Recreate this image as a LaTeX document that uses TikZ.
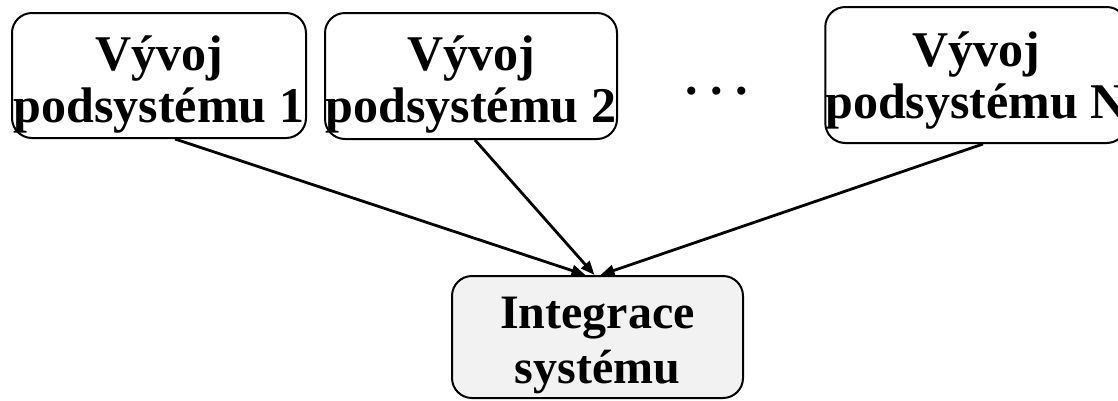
\documentclass[tikz,border=0pt]{standalone}
\usepackage{fontspec}
\setmainfont{Liberation Serif}
\usetikzlibrary{arrows.meta,calc}
\begin{document}
\begin{tikzpicture}[x=1pt,y=-1pt,
  phase/.style={draw=black, line width=2pt, rounded corners=20pt,
    inner sep=0pt, align=center, text height=100pt,
    font=\fontsize{50}{52}\selectfont\bfseries},
  flow/.style={line width=2.8pt, -{Triangle[length=14pt,width=11pt]}}]
  \useasboundingbox (0,0) rectangle (1118,400);

  % development of the individual subsystems
  \node[phase, minimum width=294pt, minimum height=125pt, text depth=7pt]
    (b1) at (159,75.5) {Vývoj\\podsystému 1};
  \node[phase, minimum width=292pt, minimum height=126pt, text depth=8pt]
    (b2) at (471,76) {Vývoj\\podsystému 2};
  \node[phase, minimum width=300pt, minimum height=136pt, text depth=14pt]
    (bN) at (976,75) {Vývoj\\podsystému N};
  \node[anchor=base, inner sep=0pt, font=\fontsize{50}{52}\selectfont\bfseries]
    (dots) at (717,94) {.\ .\ .};

  % system integration
  \node[phase, fill={rgb,255:red,242;green,242;blue,242},
    font=\fontsize{48}{55}\selectfont\bfseries,
    minimum width=291pt, minimum height=122pt, text depth=8pt]
    (bI) at (597.5,337) {Integrace\\systému};

  \draw[flow] ($(b1.south)+(16,0)$) -- ($(bI.north)+(-12,0)$);
  \draw[flow] ($(b2.south)+(4,0)$) -- ($(bI.north)+(-3,0)$);
  \draw[flow] ($(bN.south)+(7,0)$) -- ($(bI.north)+(3,0)$);
\end{tikzpicture}
\end{document}
